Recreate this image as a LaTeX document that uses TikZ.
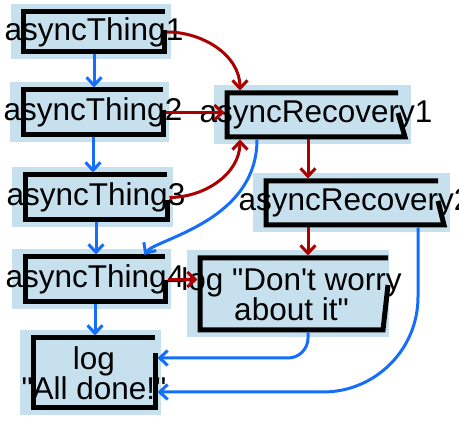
\documentclass[tikz,border=0pt]{standalone}
\usepackage{fontspec}
\setmainfont{Liberation Sans}[Ligatures=TeXOff]
\usepackage{tikz}
\usetikzlibrary{arrows.meta, positioning, calc, backgrounds}
\definecolor{boxfill}{RGB}{198,224,238}
\definecolor{linkred}{RGB}{170,0,0}
\definecolor{linkblue}{RGB}{20,110,250}
\tikzset{
    flowbox/.style={rectangle,inner sep=0pt,outer sep=0pt},
    boxline/.style={line width=5pt,black},
    redlink/.style={->,line width=3pt,linkred,shorten >=2.5pt,shorten <=2.5pt},
    bluelink/.style={->,line width=3pt,linkblue,shorten >=2.5pt,shorten <=2.5pt},
    >={Straight Barb[length=8pt,width=15pt]}
}

\begin{document}
\begin{tikzpicture}[x=1pt,y=1pt,font=\fontsize{31.5}{30}\selectfont,every label/.style={align=center}]
    \useasboundingbox (0,0) rectangle (459,-422);

    % Kette links
    \node[flowbox,minimum width=141pt,minimum height=40pt,label=center:asyncThing1] (t1) at (94,-32) {};
    \node[flowbox,minimum width=140pt,minimum height=45pt,label=center:asyncThing2] (t2) at (93,-112.5) {};
    \node[flowbox,minimum width=142pt,minimum height=45pt,label=center:asyncThing3] (t3) at (96,-197.5) {};
    \node[flowbox,minimum width=140pt,minimum height=45pt,label=center:asyncThing4] (t4) at (95,-279.5) {};
    \node[flowbox,minimum width=122pt,minimum height=70pt,label={center:log\\"All done!"}] (done) at (94,-373) {};

    % Recovery rechts
    \node[flowbox,minimum width=178pt,minimum height=44pt,label=center:asyncRecovery1] (r1) at (316,-115) {};
    \node[flowbox,minimum width=178pt,minimum height=44pt,label=center:asyncRecovery2] (r2) at (355,-203) {};
    \node[flowbox,minimum width=183pt,minimum height=72pt,label={center:log "Don't worry\\about it"}] (dw) at (291.5,-294) {};

    \coordinate (rx) at (308,0);
    \coordinate (bx) at (418,0);

    % Boxen im Skizzenstil
    \begin{scope}[on background layer]
        \foreach \n in {t1,t2,t3,t4,done,r1,r2,dw}
            \fill[boxfill] ($(\n.south west)+(-13,-7)$) rectangle ($(\n.north east)+(6,8)$);
        \foreach \n/\s/\g in {t1/0/18,t2/0/20,t3/0/25,t4/0/23,done/0/15,r1/7/20,r2/6/20,dw/-5/27}
            \draw[boxline] ($(\n.north east)+(-\s,0)$) -- (\n.north west) -- (\n.south west) -- (\n.south east) -- ($(\n.north east)+(-\s,-\g)$);
    \end{scope}

    % Erfolg
    \draw[bluelink] (t1.south) -- (t1.south |- t2.north);
    \draw[bluelink] (t2.south) -- (t2.south |- t3.north);
    \draw[bluelink] (t3.south) -- (t3.south |- t4.north);
    \draw[bluelink] (t4.south) -- (t4.south |- done.north);
    \draw[bluelink] ($(r1.south west)+(30,0)$) .. controls +(0,-85) and +(12,18) .. ($(t4.north east)+(-22,0)$);
    \draw[bluelink,rounded corners=20pt] (dw.south -| rx) |- ($(done.east)+(0,15)$);
    \draw[bluelink,rounded corners=95pt] (r2.south -| bx) |- ($(done.east)+(0,-19)$);

    % Fehler
    \draw[redlink] (t1.east) to[out=0,in=90] ($(r1.north west)+(13,0)$);
    \draw[redlink] (t2.east) -- (t2.east -| r1.west);
    \draw[redlink] (t3.east) to[out=0,in=-90] ($(r1.south west)+(13,0)$);
    \draw[redlink] (r1.south -| rx) -- (r2.north -| rx);
    \draw[redlink] (r2.south -| rx) -- (dw.north -| rx);
    \draw[redlink] (t4.east) -- (t4.east -| dw.west);
\end{tikzpicture}
\end{document}
